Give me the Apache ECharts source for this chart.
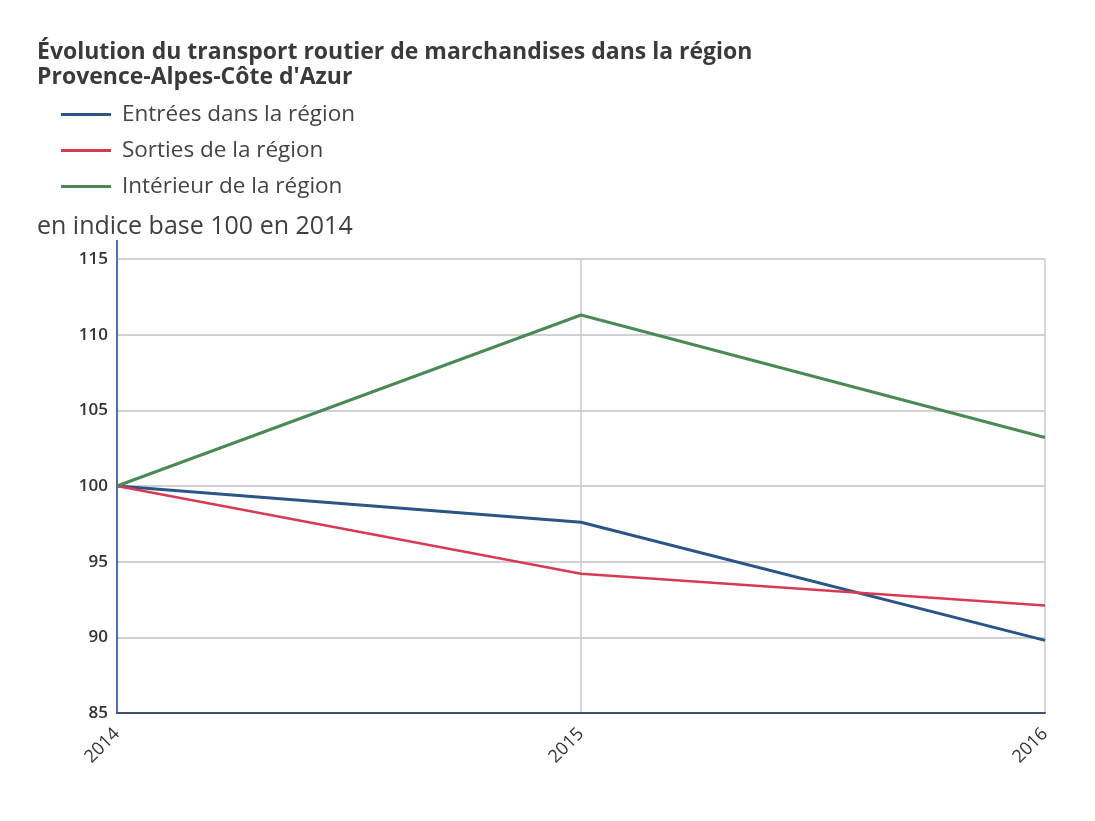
<!DOCTYPE html>
<html><head><meta charset="utf-8">
<script src="https://cdn.jsdelivr.net/npm/echarts@6/dist/echarts.min.js"></script>
<style>html,body{margin:0;padding:0;background:#fff}#c{width:1095px;height:821px}</style>
</head><body><div id="c"></div>
<script>
const years = ['2014', '2015', '2016'];
const entrees = [100, 97.6, 89.8];
const sorties = [100, 94.2, 92.1];
const interieur = [100, 111.3, 103.2];
const seriesNames = ['Entrées dans la région', 'Sorties de la région', 'Intérieur de la région'];
const yTicks = [85, 90, 95, 100, 105, 110, 115];

const chart = echarts.init(document.getElementById('c'));
const font = '"Open Sans", "Noto Sans", sans-serif';
chart.setOption({
  animation: false,
  textStyle: { fontFamily: font },
  title: [
    { text: 'Évolution du transport routier de marchandises dans la région\nProvence-Alpes-Côte d\'Azur',
      left: 32, top: 35, textStyle: { fontSize: 23, fontWeight: 'bold', color: '#3a3a3a', lineHeight: 25, fontFamily: font } },
    { text: 'en indice base 100 en 2014', left: 32, top: 209,
      textStyle: { fontSize: 25, fontWeight: 'normal', color: '#3f3f3f', fontFamily: font } }
  ],
  legend: {
    orient: 'vertical', left: 56, top: 98, itemGap: 13,
    icon: 'rect', itemWidth: 50, itemHeight: 3,
    textStyle: { fontSize: 22.5, color: '#444', fontFamily: font, padding: [0, 0, 0, 6] },
    data: seriesNames
  },
  grid: { left: 117, right: 50, top: 259, bottom: 108, containLabel: false },
  xAxis: {
    type: 'category', data: years, boundaryGap: false,
    axisLine: { lineStyle: { color: '#3d5275', width: 2 } },
    axisTick: { show: false },
    axisLabel: { rotate: 45, fontSize: 18, color: '#333', margin: 18, fontFamily: font },
    splitLine: { show: true, lineStyle: { color: '#c8c8d0', width: 1.5 } }
  },
  yAxis: {
    type: 'value', min: 85, max: 115, interval: 5,
    axisLine: { show: true, lineStyle: { color: '#4a72a8', width: 2 } },
    axisTick: { show: false },
    axisLabel: { fontSize: 17, fontWeight: 600, color: '#333', margin: 9, fontFamily: font },
    splitLine: { lineStyle: { color: '#c0c0c8', width: 1.5 } }
  },
  series: [
    { name: seriesNames[0], type: 'line', data: entrees, symbol: 'none', lineStyle: { width: 3, color: '#2b5487' }, itemStyle: { color: '#2b5487' } },
    { name: seriesNames[1], type: 'line', data: sorties, symbol: 'none', lineStyle: { width: 2.5, color: '#d83a54' }, itemStyle: { color: '#d83a54' } },
    { name: seriesNames[2], type: 'line', data: interieur, symbol: 'none', lineStyle: { width: 3, color: '#4a8a56' }, itemStyle: { color: '#4a8a56' } }
  ],
  graphic: [
    { type: 'line', shape: { x1: 117, y1: 240, x2: 117, y2: 259 }, style: { stroke: '#4a72a8', lineWidth: 2 } }
  ]
});
</script></body></html>
